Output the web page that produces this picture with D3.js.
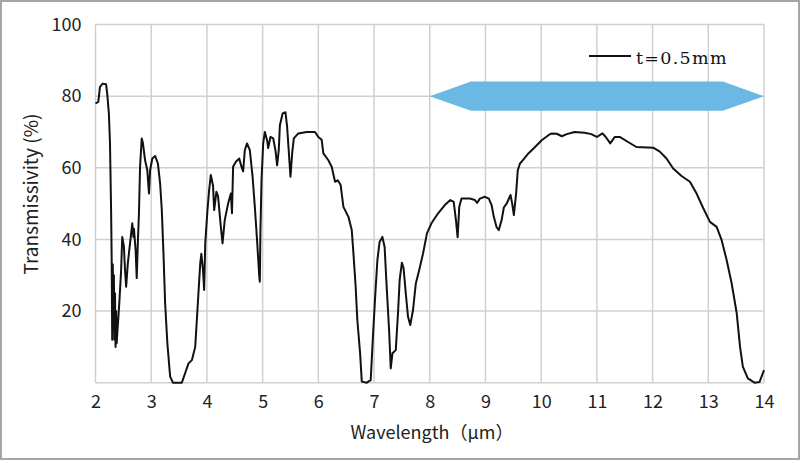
<!DOCTYPE html>
<html><head><meta charset="utf-8">
<script src="https://cdn.jsdelivr.net/npm/d3@7"></script>
<style>body{margin:0;background:#fff}svg{display:block}</style>
</head><body>
<svg id="c" width="800" height="460"></svg>
<script>
const xTicks = [2,3,4,5,6,7,8,9,10,11,12,13,14];
const yTicks = [20,40,60,80,100];
const seriesName = "t=0.5mm";
const wavelength = [2.00,2.05,2.08,2.13,2.19,2.21,2.24,2.26,2.28,2.29,2.30,2.31,2.32,2.33,2.34,2.35,2.36,2.37,2.38,2.43,2.46,2.48,2.51,2.53,2.55,2.58,2.62,2.66,2.68,2.69,2.72,2.74,2.76,2.78,2.80,2.83,2.85,2.89,2.93,2.96,2.98,3.02,3.07,3.12,3.16,3.19,3.22,3.25,3.29,3.34,3.39,3.55,3.61,3.67,3.73,3.79,3.83,3.88,3.90,3.93,3.95,3.97,4.01,4.04,4.07,4.11,4.13,4.17,4.20,4.25,4.28,4.32,4.38,4.43,4.45,4.47,4.52,4.58,4.62,4.65,4.68,4.72,4.77,4.82,4.86,4.90,4.94,4.95,4.96,4.98,5.01,5.04,5.08,5.10,5.14,5.19,5.23,5.26,5.29,5.31,5.36,5.41,5.44,5.48,5.50,5.53,5.56,5.64,5.79,5.94,6.00,6.06,6.09,6.18,6.24,6.30,6.35,6.40,6.45,6.54,6.60,6.63,6.67,6.70,6.75,6.78,6.87,6.94,6.98,7.02,7.06,7.10,7.15,7.19,7.22,7.27,7.30,7.33,7.39,7.43,7.46,7.50,7.53,7.57,7.61,7.65,7.70,7.75,7.81,7.88,7.95,8.03,8.15,8.27,8.37,8.43,8.47,8.50,8.53,8.57,8.72,8.81,8.85,8.90,8.99,9.06,9.11,9.15,9.20,9.24,9.29,9.33,9.38,9.41,9.45,9.48,9.51,9.55,9.58,9.62,9.68,9.77,9.89,10.01,10.13,10.19,10.28,10.37,10.46,10.60,10.78,10.90,11.00,11.10,11.16,11.24,11.32,11.41,11.56,11.71,12.01,12.13,12.25,12.37,12.52,12.67,12.79,12.91,13.03,13.15,13.24,13.33,13.42,13.51,13.57,13.62,13.71,13.83,13.92,14.00];
const transmissivity = [78.0,78.4,82.6,83.5,83.3,80.7,75.2,66.9,48.2,35.0,12.0,33.0,15.0,30.0,12.0,25.0,10.0,20.0,11.0,23.0,31.4,40.7,38.0,31.4,26.8,33.3,38.9,44.5,40.7,43.0,37.0,29.2,39.0,47.3,60.3,68.2,67.0,62.1,59.3,52.8,59.3,62.6,63.3,61.2,55.6,48.2,36.1,22.2,11.0,1.7,0.0,0.0,2.7,5.4,6.3,10.0,20.3,33.3,36.0,31.4,25.9,38.9,48.2,53.8,58.0,55.0,48.2,53.3,52.0,43.5,38.9,45.4,50.0,52.8,47.3,60.3,61.7,62.6,60.3,59.0,64.9,66.8,64.9,57.5,49.1,39.8,29.6,28.2,41.7,56.6,66.8,70.0,67.7,65.5,68.6,68.2,64.9,60.7,65.0,71.9,75.2,75.5,71.4,62.1,57.5,64.0,68.2,69.6,70.0,70.0,68.6,67.8,64.0,62.1,60.3,56.1,56.5,55.2,49.1,46.3,42.6,36.1,26.8,17.5,8.2,0.3,0.0,0.7,12.8,24.0,34.2,39.3,40.7,37.9,28.7,14.7,4.0,8.2,9.1,19.4,28.7,33.5,32.0,24.9,18.4,16.1,20.3,27.7,31.4,36.1,41.7,44.5,47.3,49.6,51.0,50.5,45.4,40.6,49.1,51.4,51.4,51.0,50.2,51.4,51.9,51.4,49.6,46.3,43.4,42.6,45.4,48.9,50.0,51.0,52.4,50.0,46.8,52.8,59.3,61.2,62.3,64.0,65.8,67.7,69.1,69.6,69.5,68.8,69.4,70.0,69.8,69.4,68.6,69.6,68.6,66.8,68.6,68.6,67.2,65.8,65.6,64.5,62.6,59.8,57.7,56.1,52.8,48.7,44.9,43.5,39.8,34.2,27.7,19.4,10.0,4.5,1.2,0.0,0.2,3.5];
const bandRange = [8, 14];
const bandLevel = 80;

const svg = d3.select("#c");
svg.append("rect").attr("x",1).attr("y",1).attr("width",798).attr("height",458)
  .attr("fill","#fff").attr("stroke","#a6a6a6").attr("stroke-width",2);

const m = {l:95.5, r:764, t:24.5, b:382.7};
const x = d3.scaleLinear().domain([2,14]).range([m.l, m.r]);
const y = d3.scaleLinear().domain([0,100]).range([m.b, m.t]);
const font = "'Noto Sans CJK JP','Noto Sans',sans-serif";

const g = svg.append("g");
g.selectAll("line.vx").data(xTicks).join("line")
  .attr("x1",d=>x(d)).attr("x2",d=>x(d)).attr("y1",y(0)).attr("y2",y(100))
  .attr("stroke","#d0d0d0").attr("stroke-width",1.5);
g.selectAll("line.hy").data([0,...yTicks]).join("line")
  .attr("x1",x(2)).attr("x2",x(14)).attr("y1",d=>y(d)).attr("y2",d=>y(d))
  .attr("stroke","#d0d0d0").attr("stroke-width",1.5);

const xAxis = d3.axisBottom(x).tickValues(xTicks).tickSize(0).tickPadding(13).tickFormat(d3.format("d"));
const xg = svg.append("g").attr("transform",`translate(0,${y(0)})`).call(xAxis);
xg.select(".domain").remove();
xg.selectAll("text").attr("font-family",font).attr("font-size",18).attr("fill","#222");

const yAxis = d3.axisLeft(y).tickValues(yTicks).tickSize(0).tickPadding(14).tickFormat(d3.format("d"));
const yg = svg.append("g").attr("transform",`translate(${x(2)},0)`).call(yAxis);
yg.select(".domain").remove();
yg.selectAll("text").attr("font-family",font).attr("font-size",18).attr("fill","#222");

// band arrow
const hh = 4.1, tip = 0.74;
const bandPts = [
  [bandRange[0], bandLevel],
  [bandRange[0]+tip, bandLevel+hh],
  [bandRange[1]-tip, bandLevel+hh],
  [bandRange[1], bandLevel],
  [bandRange[1]-tip, bandLevel-hh],
  [bandRange[0]+tip, bandLevel-hh]
];
const bandLine = d3.line().x(d=>x(d[0])).y(d=>y(d[1]));
svg.append("path").attr("d", bandLine(bandPts) + "Z").attr("fill","#6cb8e4");

const data = wavelength.map((w,i)=>[w, transmissivity[i]]);
svg.append("path").datum(data)
  .attr("d", d3.line().x(d=>x(d[0])).y(d=>y(d[1])))
  .attr("fill","none").attr("stroke","#111").attr("stroke-width",2).attr("stroke-linejoin","round");

// legend
svg.append("line").attr("x1",589).attr("x2",631).attr("y1",56).attr("y2",56)
  .attr("stroke","#111").attr("stroke-width",2);
svg.append("text").attr("x",636).attr("y",64).text(seriesName)
  .attr("font-family","'DejaVu Serif','Liberation Serif',serif").attr("font-size",17.5)
  .attr("letter-spacing",1.3).attr("fill","#111");

svg.append("text").attr("x",432).attr("y",439).attr("text-anchor","middle")
  .attr("font-family",font).attr("font-size",18).attr("fill","#222").text("Wavelength（μm）");
svg.append("text").attr("transform","translate(38,194) rotate(-90)").attr("text-anchor","middle")
  .attr("font-family",font).attr("font-size",19).attr("fill","#222").text("Transmissivity (%)");
</script>
</body></html>
